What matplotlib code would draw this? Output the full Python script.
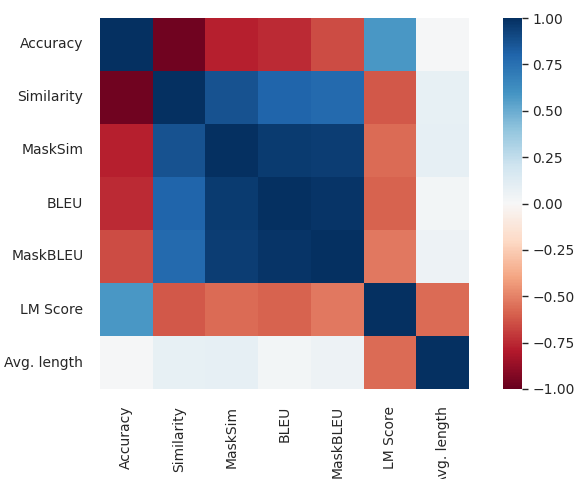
import matplotlib
matplotlib.use("Agg")
import matplotlib.pyplot as plt
import seaborn as sns
import pandas as pd

sns.set_theme(style="white")

labels = ["Accuracy", "Similarity", "MaskSim", "BLEU", "MaskBLEU", "LM Score", "Avg. length"]

# correlation matrix rows
accuracy = [1.00, -0.97, -0.78, -0.75, -0.65, 0.58, 0.01]
similarity = [-0.97, 1.00, 0.87, 0.80, 0.78, -0.62, 0.08]
masksim = [-0.78, 0.87, 1.00, 0.96, 0.95, -0.57, 0.09]
bleu = [-0.75, 0.80, 0.96, 1.00, 0.98, -0.59, 0.03]
maskbleu = [-0.65, 0.78, 0.95, 0.98, 1.00, -0.53, 0.05]
lm_score = [0.58, -0.62, -0.57, -0.59, -0.53, 1.00, -0.57]
avg_length = [0.01, 0.08, 0.09, 0.03, 0.05, -0.57, 1.00]

corr = pd.DataFrame([accuracy, similarity, masksim, bleu, maskbleu, lm_score, avg_length],
                    index=labels, columns=labels)

fig = plt.figure(figsize=(5.81, 4.79), dpi=100)
ax = fig.add_axes([100/581, 90/479, 369/581, 371/479])
cax = fig.add_axes([503/581, 90/479, 19/581, 371/479])

sns.heatmap(corr, cmap="RdBu", vmin=-1, vmax=1, ax=ax, cbar_ax=cax)
ax.tick_params(length=0, labelsize=10, pad=12)
cax.tick_params(length=4, width=1, labelsize=10, right=True)
for lab in ax.get_xticklabels():
    lab.set_rotation(90)
for lab in ax.get_yticklabels():
    lab.set_rotation(0)

fig.savefig("out.png", dpi=100)
